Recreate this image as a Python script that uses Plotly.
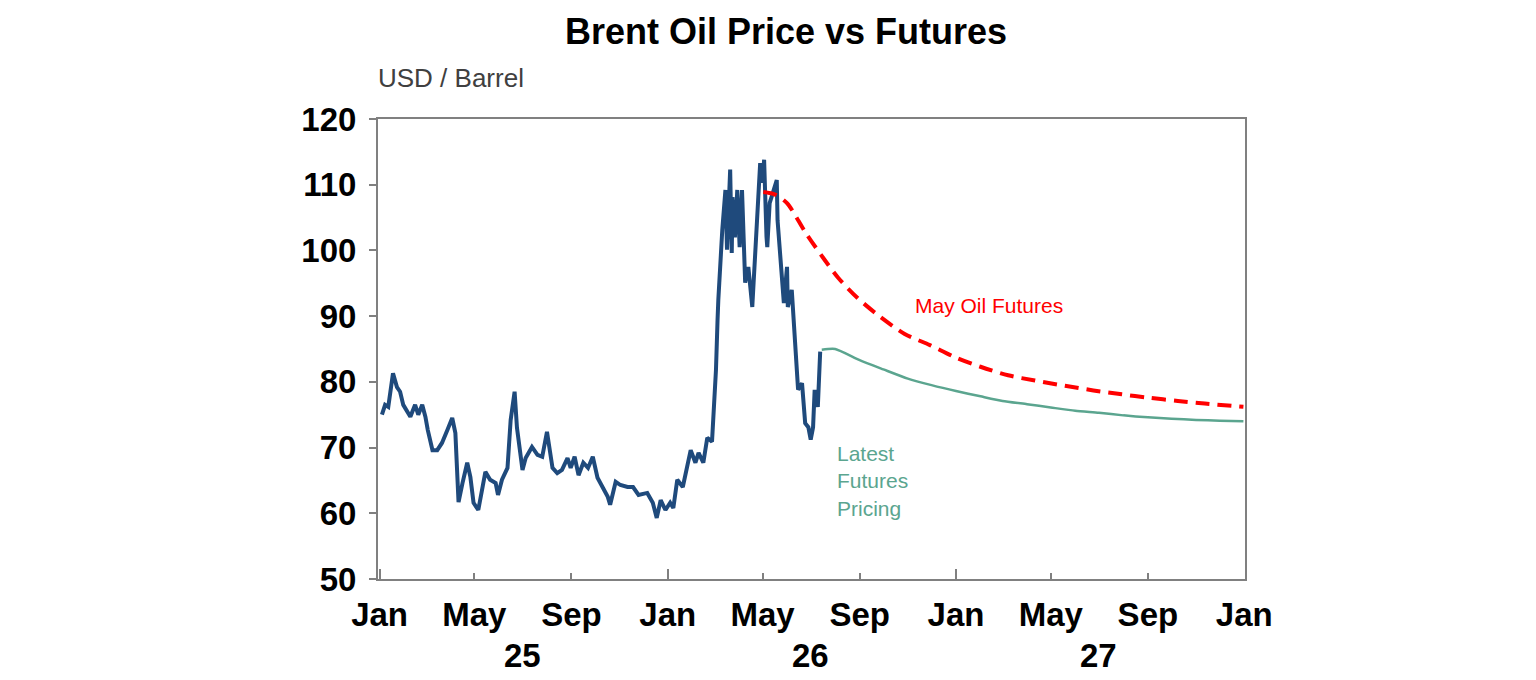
import plotly.graph_objects as go

# ---------------- data ----------------
brent_dates = [
    "2025-01-04", "2025-01-08", "2025-01-12", "2025-01-18", "2025-01-23", "2025-01-27", "2025-01-31",
    "2025-02-09", "2025-02-15", "2025-02-19", "2025-02-24", "2025-02-28", "2025-03-03", "2025-03-09",
    "2025-03-15", "2025-03-21", "2025-03-28", "2025-04-03", "2025-04-07", "2025-04-11", "2025-04-16",
    "2025-04-22", "2025-04-26", "2025-04-30", "2025-05-06", "2025-05-15", "2025-05-21", "2025-05-28",
    "2025-05-31", "2025-06-05", "2025-06-12", "2025-06-16", "2025-06-21", "2025-06-24", "2025-07-01",
    "2025-07-05", "2025-07-13", "2025-07-20", "2025-07-26", "2025-08-01", "2025-08-08", "2025-08-14",
    "2025-08-20", "2025-08-27", "2025-08-31", "2025-09-05", "2025-09-10", "2025-09-16", "2025-09-22",
    "2025-09-28", "2025-10-04", "2025-10-10", "2025-10-17", "2025-10-20", "2025-10-27", "2025-11-02",
    "2025-11-11", "2025-11-18", "2025-11-25", "2025-12-06", "2025-12-13", "2025-12-18", "2025-12-23",
    "2025-12-29", "2026-01-04", "2026-01-08", "2026-01-13", "2026-01-20", "2026-01-23", "2026-01-30",
    "2026-02-05", "2026-02-09", "2026-02-15", "2026-02-20", "2026-02-26", "2026-02-28", "2026-03-03",
    "2026-03-05", "2026-03-06", "2026-03-11", "2026-03-15", "2026-03-17", "2026-03-21", "2026-03-23",
    "2026-03-24", "2026-03-27", "2026-03-30", "2026-04-02", "2026-04-05", "2026-04-09", "2026-04-13",
    "2026-04-18", "2026-04-22", "2026-04-26", "2026-04-28", "2026-05-01", "2026-05-03", "2026-05-06",
    "2026-05-07", "2026-05-10", "2026-05-14", "2026-05-19", "2026-05-20", "2026-05-25", "2026-05-28",
    "2026-06-01", "2026-06-02", "2026-06-07", "2026-06-11", "2026-06-15", "2026-06-20", "2026-06-24",
    "2026-06-28", "2026-07-01", "2026-07-04", "2026-07-06", "2026-07-10", "2026-07-13",
]
brent_values = [
    75.0, 76.5, 76.2, 81.3, 79.2, 78.5, 76.5,
    74.7, 76.5, 75.0, 76.5, 74.7, 72.7, 69.6,
    69.6, 70.7, 72.7, 74.5, 72.2, 61.7, 64.6,
    67.7, 65.5, 61.6, 60.5, 66.3, 65.1, 64.6,
    62.8, 65.1, 66.9, 74.2, 78.5, 73.0, 66.6,
    68.4, 70.1, 68.9, 68.6, 72.4, 66.9, 66.1,
    66.6, 68.4, 66.9, 68.6, 65.8, 67.7, 66.9,
    68.6, 65.4, 64.0, 62.5, 61.3, 64.8, 64.3,
    64.0, 64.0, 62.8, 63.1, 61.6, 59.3, 62.0,
    60.5, 61.6, 60.8, 65.1, 64.0, 65.5, 69.6,
    67.7, 69.2, 67.7, 71.5, 70.9, 74.7, 81.8,
    89.4, 92.5, 103.1, 109.2, 100.1, 112.3, 99.6,
    108.1, 102.0, 109.2, 100.5, 109.2, 95.1, 97.5,
    91.4, 100.1, 107.2, 113.3, 110.3, 113.8, 102.1,
    100.5, 107.2, 108.7, 110.7, 104.6, 96.6, 92.0,
    97.5, 91.4, 94.0, 86.8, 78.8, 79.8, 73.7,
    73.1, 71.2, 73.1, 78.8, 76.2, 84.6,
]

latest_dates = [
    "2026-07-15", "2026-08-01", "2026-09-01", "2026-10-01", "2026-11-01", "2026-12-01",
    "2027-01-01", "2027-02-01", "2027-03-01", "2027-04-01", "2027-05-01", "2027-06-01",
    "2027-07-01", "2027-08-01", "2027-09-01", "2027-10-01", "2027-11-01", "2027-12-01", "2027-12-31",
]
latest_values = [
    84.9, 85.0, 83.3, 81.9, 80.5, 79.5,
    78.6, 77.8, 77.1, 76.6, 76.1, 75.6,
    75.3, 74.9, 74.6, 74.4, 74.2, 74.1, 74.0,
]

may_dates = [
    "2026-05-02", "2026-05-17", "2026-06-01", "2026-06-24", "2026-07-16", "2026-08-05",
    "2026-08-29", "2026-09-27", "2026-10-28", "2026-11-29", "2026-12-30", "2027-02-01",
    "2027-03-08", "2027-04-11", "2027-05-19", "2027-06-24", "2027-07-30", "2027-09-01",
    "2027-10-09", "2027-11-12", "2027-12-31",
]
may_values = [
    108.9, 108.5, 107.2, 102.8, 99.0, 95.8,
    92.8, 89.9, 87.3, 85.6, 83.8, 82.3,
    81.0, 80.2, 79.4, 78.7, 78.1, 77.6,
    77.1, 76.7, 76.2,
]

year_labels = ["25", "26", "27"]
year_label_dates = ["2025-07-01", "2026-07-01", "2027-07-01"]

# ---------------- styles ----------------
FONT = "Liberation Sans, Arial, sans-serif"
BLUE = "#1F4A7C"
RED = "#FF0000"
TEAL = "#5BA58F"
AXIS = "#808080"
X_RANGE = ["2024-12-30", "2028-01-02"]

fig = go.Figure()
fig.add_trace(go.Scatter(x=brent_dates, y=brent_values, mode="lines",
                         line=dict(color=BLUE, width=4), showlegend=False))
fig.add_trace(go.Scatter(x=latest_dates, y=latest_values, mode="lines",
                         line=dict(color=TEAL, width=2.5, shape="spline", smoothing=0.6),
                         showlegend=False))
fig.add_trace(go.Scatter(x=may_dates, y=may_values, mode="lines",
                         line=dict(color=RED, width=4, dash="14px,8px", shape="spline", smoothing=0.8),
                         showlegend=False))
# invisible trace on the overlay axis for the longer January ticks
fig.add_trace(go.Scatter(x=X_RANGE, y=[None, None], xaxis="x2", mode="lines",
                         showlegend=False, hoverinfo="skip"))

fig.update_layout(
    width=1536, height=680,
    paper_bgcolor="white", plot_bgcolor="white",
    margin=dict(l=378, r=291, t=119, b=101),
    font=dict(family=FONT, color="black"),
    title=dict(text="<b>Brent Oil Price vs Futures</b>", x=786 / 1536, xanchor="center",
               y=1 - 31 / 680, yanchor="middle", font=dict(size=36, family=FONT, color="black")),
    xaxis=dict(
        type="date", range=X_RANGE, tick0="2025-01-01", dtick="M4", tickformat="%b",
        ticks="inside", ticklen=6, tickwidth=1.5, tickcolor=AXIS,
        showline=True, linecolor=AXIS, linewidth=2, mirror=True,
        showgrid=False, zeroline=False,
        tickfont=dict(size=33, family=FONT, color="black", weight="bold"),
        ticklabelstandoff=5,
    ),
    xaxis2=dict(
        type="date", range=X_RANGE, overlaying="x", tick0="2025-01-01", dtick="M12",
        ticks="inside", ticklen=10, tickwidth=1.5, tickcolor=AXIS,
        showticklabels=False, showgrid=False, showline=False, zeroline=False,
        side="bottom", anchor="y",
    ),
    yaxis=dict(
        range=[50, 120], dtick=10, ticks="outside", ticklen=7, tickwidth=1.5, tickcolor=AXIS,
        showline=True, linecolor=AXIS, linewidth=2, mirror=True,
        showgrid=False, zeroline=False,
        tickfont=dict(size=33, family=FONT, color="black", weight="bold"),
        ticklabelstandoff=6,
    ),
)

annotations = [
    dict(text="USD / Barrel", xref="paper", yref="paper", x=-0.002, y=(579 - 78) / 460,
         xanchor="left", yanchor="middle", showarrow=False,
         font=dict(size=26, family=FONT, color="#404040")),
    dict(text="May Oil Futures", xref="x", yref="y", x="2026-11-07", y=91.6,
         xanchor="left", yanchor="middle", showarrow=False,
         font=dict(size=21, family=FONT, color=RED)),
    dict(text="Latest<br>Futures<br>Pricing", xref="x", yref="y", x="2026-08-01", y=64.9,
         xanchor="left", yanchor="middle", align="left", showarrow=False,
         font=dict(size=21, family=FONT, color=TEAL)),
]
for lab, d in zip(year_labels, year_label_dates):
    annotations.append(dict(text="<b>" + lab + "</b>", xref="x", yref="paper", x=d,
                            y=-(655 - 579) / 460, xanchor="center", yanchor="middle",
                            showarrow=False, font=dict(size=33, family=FONT, color="black")))
fig.update_layout(annotations=annotations)

fig.write_html("out.html")
